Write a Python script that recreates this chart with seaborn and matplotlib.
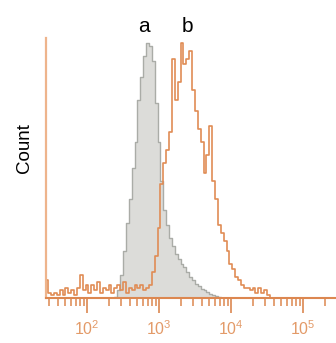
import numpy as np
import pandas as pd
import matplotlib
matplotlib.use("Agg")
import matplotlib.pyplot as plt
import seaborn as sns

# log10 bin layout of the two histograms (decades)
bin_width = 0.04
gray_start = 2.38
orange_start = 1.42

# isotype control (a), counts per bin
gray_counts = [0.5, 3, 9, 18, 29, 38, 50, 60, 76, 85, 93, 98, 97, 91, 75, 60,
               45, 34, 28, 23, 20, 17, 15, 13, 12, 10, 8, 7, 5.5, 4.5, 3.5, 3,
               2.2, 1.6, 1.1, 0.6, 0.3]

# stained sample (b), counts per bin
orange_counts = [7, 2, 1, 2, 1, 3, 1, 4, 2, 3, 1, 4, 9, 3, 5, 2, 5, 3, 6, 2,
                 4, 3, 5, 2, 4, 5, 3, 6, 2, 4, 3, 5, 4, 5, 3, 4,
                 5, 10, 16, 27, 44, 52, 57, 64, 92, 76, 83, 98, 90, 92, 95, 80,
                 72, 65, 60, 48, 55, 66, 45, 38, 28, 25, 22, 18, 13, 11, 8, 7,
                 5, 4, 4, 3, 4, 2, 4, 2, 3, 1, 0]

peak_labels = ["a", "b"]
tick_orange = "#dc8750"
label_orange = "#e39a68"


def bin_frame(start, counts):
    n = len(counts)
    centers = start + bin_width * (np.arange(n) + 0.5)
    return pd.DataFrame({"fluor": 10 ** centers, "count": counts})


gray_df = bin_frame(gray_start, gray_counts)
orange_df = bin_frame(orange_start, orange_counts)

sns.set_style("white")
plt.rcParams["font.family"] = ["Liberation Sans", "DejaVu Sans"]

fig, ax = plt.subplots(figsize=(3.36, 3.43), dpi=100)
fig.subplots_adjust(left=46 / 336, right=1.0, bottom=45 / 343, top=305 / 343)

sns.histplot(
    data=gray_df, x="fluor", weights="count", log_scale=True,
    binwidth=bin_width,
    binrange=(gray_start, gray_start + bin_width * len(gray_counts)),
    element="step", fill=True, alpha=1,
    facecolor="#dcdcd9", edgecolor="#aaaca7", linewidth=1, ax=ax,
)
sns.histplot(
    data=orange_df, x="fluor", weights="count", log_scale=True,
    binwidth=bin_width,
    binrange=(orange_start, orange_start + bin_width * len(orange_counts)),
    element="step", fill=False, color="#e08c55", linewidth=1.2, ax=ax,
)

ax.set_xlim(10 ** 1.43, 10 ** 5.46)
ax.set_ylim(0, 100)
ax.set_yticks([])
ax.set_xlabel("")
ax.set_ylabel("Count", fontsize=13.5, color="black")
ax.yaxis.set_label_coords(-0.045, 0.577)

sns.despine(ax=ax, top=True, right=True)
ax.spines["left"].set_color("#eeb48c")
ax.spines["left"].set_linewidth(1.6)
ax.spines["left"].set_linestyle((0, (3, 1)))
ax.spines["bottom"].set_color(tick_orange)
ax.spines["bottom"].set_linewidth(1.5)

ax.tick_params(axis="x", which="both", bottom=True, direction="out")
ax.tick_params(axis="x", which="major", length=11, width=1.2, color=tick_orange,
               labelcolor=label_orange, labelsize=11.5, pad=4)
ax.tick_params(axis="x", which="minor", length=6, width=1.1, color=tick_orange)

for lab, xf in zip(peak_labels, [0.338, 0.486]):
    ax.text(xf, 1.023, lab, transform=ax.transAxes, ha="center", va="baseline",
            fontsize=15, color="black", clip_on=False)

fig.savefig("out.png", dpi=100)
